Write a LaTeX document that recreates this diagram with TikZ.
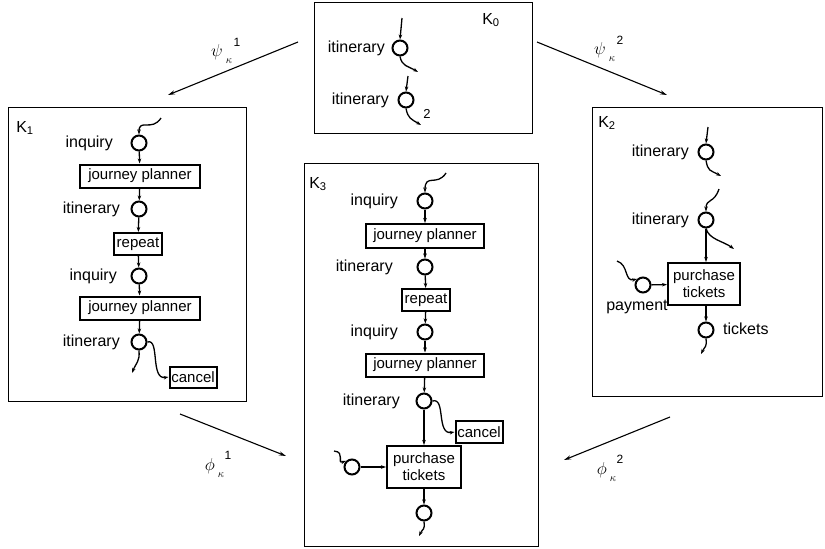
\documentclass[tikz,border=0pt]{standalone}
\usepackage{fontspec}
\setmainfont{Liberation Sans}
\usetikzlibrary{arrows.meta}
\begin{document}
\begin{tikzpicture}[x=1pt,y=-1pt,
  panel/.style={draw, line width=0.9pt, inner sep=0pt, anchor=north west},
  place/.style={circle, draw, line width=2pt, minimum size=15pt, inner sep=0pt},
  trans/.style={draw, line width=2pt, font=\fontsize{15}{17}\selectfont, inner sep=1pt, align=center},
  lbl/.style={font=\fontsize{16}{18}\selectfont, inner sep=1pt},
  flow/.style={line width=1.3pt, -{Stealth[length=5pt,width=3.5pt]}},
  mapar/.style={line width=1.1pt, -{Stealth[length=7pt,width=4pt]}},
  greek/.style={font=\fontsize{19}{21}\selectfont, inner sep=0pt},
  gsub/.style={font=\fontsize{11}{12}\selectfont, inner sep=0pt},
  gsup/.style={font=\fontsize{12}{13}\selectfont, inner sep=0pt}]
\useasboundingbox (0,0) rectangle (825,549);

% ---------- panels ----------
\node[panel, minimum width=218pt, minimum height=131pt] (K0) at (314,2) {};
\node[panel, minimum width=238pt, minimum height=294pt] (K1) at (8,107) {};
\node[panel, minimum width=234pt, minimum height=383pt] (K3) at (304,163) {};
\node[panel, minimum width=230pt, minimum height=289pt] (K2) at (592,107) {};

\node[lbl] (K0lab) at (491,20) {K\textsubscript{0}};
\node[lbl] (K1lab) at (25,128) {K\textsubscript{1}};
\node[lbl] (K3lab) at (318,184) {K\textsubscript{3}};
\node[lbl] (K2lab) at (607,123) {K\textsubscript{2}};

% ---------- K0 ----------
\node[place] (a1) at (400,48) {};
\node[lbl, anchor=east] (a1l) at (386,48) {itinerary};
\coordinate (a1in) at (402,18);
\coordinate (a1out) at (418,72);
\draw[flow] (a1in) -- (a1.north);
\draw[flow] (a1.south) .. controls +(2,10) and +(-10,-6) .. (a1out);

\node[place] (a2) at (406,100) {};
\node[lbl, anchor=east] (a2l) at (390,100) {itinerary};
\coordinate (a2in) at (408,76);
\coordinate (a2out) at (421,125);
\draw[flow] (a2in) -- (a2.north);
\draw[flow] (a2.south) .. controls +(2,10) and +(-10,-6) .. (a2out);
\node[lbl, font=\fontsize{13}{15}\selectfont] (a2n) at (427,114) {2};

% ---------- K1 ----------
\node[place] (b1) at (139,143) {};
\node[lbl, anchor=east] (b1l) at (114,143) {inquiry};
\node[trans, minimum width=120pt, minimum height=23pt] (b2) at (140,176) {journey planner};
\node[place] (b3) at (139,209) {};
\node[lbl, anchor=east] (b3l) at (121,209) {itinerary};
\node[trans, minimum width=48pt, minimum height=22pt] (b4) at (138,244) {repeat};
\node[place] (b5) at (139,276) {};
\node[lbl, anchor=east] (b5l) at (118,276) {inquiry};
\node[trans, minimum width=120pt, minimum height=23pt] (b6) at (140,308) {journey planner};
\node[place] (b7) at (139,342) {};
\node[lbl, anchor=east] (b7l) at (121,342) {itinerary};
\node[trans, minimum width=47pt, minimum height=21pt] (b8) at (193,377) {cancel};
\coordinate (b1in) at (161,118);
\coordinate (b7out) at (132,373);
\draw[flow] (b1in) .. controls (152,132) and (139,118) .. (b1.north);
\draw[flow] (b1) -- (b2);
\draw[flow] (b2) -- (b3);
\draw[flow] (b3) -- (b4);
\draw[flow] (b4) -- (b5);
\draw[flow] (b5) -- (b6);
\draw[flow] (b6) -- (b7);
\draw[flow] (b7.south) .. controls +(1,11) and +(4,-10) .. (b7out);
\draw[flow] (b7.east) .. controls (160,338) and (150,380) .. (b8.west);

% ---------- K3 ----------
\node[place] (c1) at (425,201) {};
\node[lbl, anchor=east] (c1l) at (399,201) {inquiry};
\node[trans, minimum width=118pt, minimum height=24pt] (c2) at (425,236) {journey planner};
\node[place] (c3) at (425,267) {};
\node[lbl, anchor=east] (c3l) at (394,267) {itinerary};
\node[trans, minimum width=48pt, minimum height=22pt] (c4) at (426,300) {repeat};
\node[place] (c5) at (425,332) {};
\node[lbl, anchor=east] (c5l) at (399,332) {inquiry};
\node[trans, minimum width=118pt, minimum height=23pt] (c6) at (425,365) {journey planner};
\node[place] (c7) at (424,401) {};
\node[lbl, anchor=east] (c7l) at (401,401) {itinerary};
\node[trans, minimum width=47pt, minimum height=22pt] (c8) at (479,432) {cancel};
\node[trans, minimum width=74pt, minimum height=42pt] (c9) at (424,467) {purchase\\tickets};
\node[place] (c10) at (352,467) {};
\node[place] (c11) at (424,513) {};
\coordinate (c1in) at (446,173);
\coordinate (c10in) at (334,451);
\coordinate (c11out) at (419,536);
\draw[flow] (c1in) .. controls (437,187) and (425,173) .. (c1.north);
\draw[flow] (c1) -- (c2);
\draw[flow] (c2) -- (c3);
\draw[flow] (c3) -- (c4);
\draw[flow] (c4) -- (c5);
\draw[flow] (c5) -- (c6);
\draw[flow] (c6) -- (c7);
\draw[flow] (c7.east) .. controls (446,397) and (436,435) .. (c8.west);
\draw[flow] (c7) -- (c9);
\draw[flow] (c10in) .. controls (346,452) and (336,464) .. (c10.north west);
\draw[flow] (c10) -- (c9);
\draw[flow] (c9) -- (c11);
\draw[flow] (c11.south) .. controls +(1,9) and +(4,-8) .. (c11out);

% ---------- K2 ----------
\node[place] (d1) at (706,152) {};
\node[lbl, anchor=east] (d1l) at (690,152) {itinerary};
\node[place] (d2) at (706,220) {};
\node[lbl, anchor=east] (d2l) at (690,220) {itinerary};
\node[trans, minimum width=72pt, minimum height=42pt] (d3) at (704,284) {purchase\\tickets};
\node[place] (d4) at (643,285) {};
\node[lbl] (d4l) at (637,307) {payment};
\node[place] (d5) at (706,330) {};
\node[lbl, anchor=west] (d5l) at (722,329) {tickets};
\coordinate (d1in) at (708,127);
\coordinate (d1out) at (721,176);
\coordinate (d2in) at (719,189);
\coordinate (d2out) at (734,249);
\coordinate (d4in) at (617,261);
\coordinate (d5out) at (701,354);
\draw[flow] (d1in) -- (d1.north);
\draw[flow] (d1.south) .. controls +(2,11) and +(-11,-6) .. (d1out);
\draw[flow] (d2in) .. controls (714,204) and (706,198) .. (d2.north);
\draw[flow] (d2.south) .. controls +(3,11) and +(-11,-8) .. (d2out);
\draw[flow] (d2) -- (d3.north -| d2);
\draw[flow] (d4in) .. controls (629,265) and (624,282) .. (d4.north west);
\draw[flow] (d4) -- (d3);
\draw[flow] (d3.south -| d5) -- (d5);
\draw[flow] (d5.south) .. controls +(1,9) and +(4,-8) .. (d5out);

% ---------- mappings ----------
\coordinate (m1s) at (298,42);
\coordinate (m1e) at (168,95);
\coordinate (m2s) at (537,42);
\coordinate (m2e) at (667,95);
\coordinate (m3s) at (180,414);
\coordinate (m3e) at (286,456);
\coordinate (m4s) at (670,417);
\coordinate (m4e) at (564,460);
\draw[mapar] (m1s) -- (m1e);
\draw[mapar] (m2s) -- (m2e);
\draw[mapar] (m3s) -- (m3e);
\draw[mapar] (m4s) -- (m4e);
\node[greek] (m1l) at (217,52) {$\psi$};
\node[gsub] (m1k) at (229,61) {$\kappa$};
\node[gsup] (m1n) at (237,42) {1};
\node[greek] (m2l) at (600,50) {$\psi$};
\node[gsub] (m2k) at (612,59) {$\kappa$};
\node[gsup] (m2n) at (620,40) {2};
\node[greek] (m3l) at (210,466) {$\phi$};
\node[gsub] (m3k) at (221,475) {$\kappa$};
\node[gsup] (m3n) at (228,455) {1};
\node[greek] (m4l) at (602,470) {$\phi$};
\node[gsub] (m4k) at (613,479) {$\kappa$};
\node[gsup] (m4n) at (620,459) {2};
\end{tikzpicture}
\end{document}
